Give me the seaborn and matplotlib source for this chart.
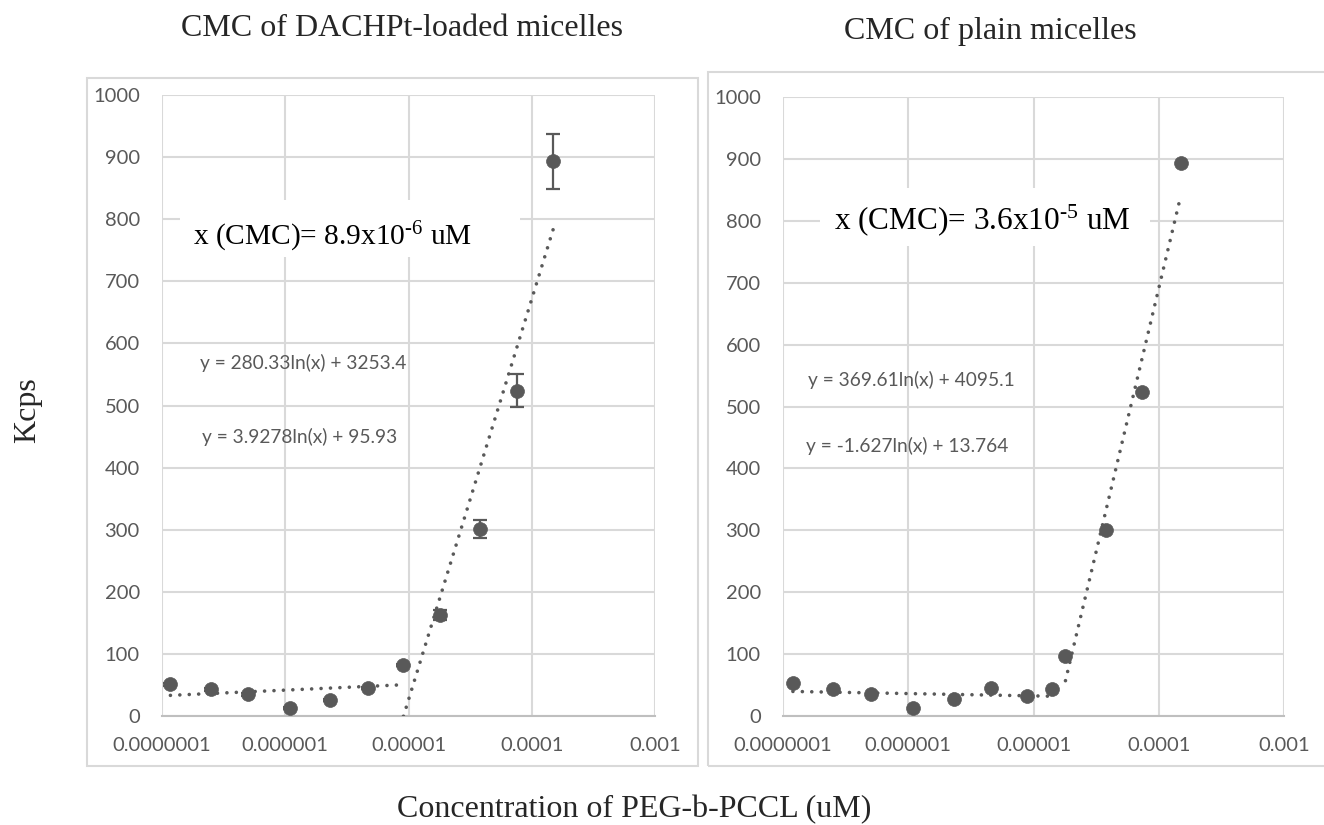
import numpy as np
import pandas as pd
import matplotlib
matplotlib.use("Agg")
import matplotlib.pyplot as plt
import seaborn as sns
from matplotlib.patches import Rectangle

# ---------------- data ----------------
left_conc = [1.17e-7, 2.5e-7, 5.0e-7, 1.1e-6, 2.3e-6, 4.7e-6, 9.1e-6, 1.8e-5, 3.8e-5, 7.6e-5, 1.5e-4]
left_kcps = [51, 43, 35, 13, 26, 45, 82, 163, 301, 524, 893]
left_err = [2, 2, 2, 2, 2, 2, 2, 8, 15, 26, 45]
left_coefs = [(3.9278, 95.93), (280.33, 3253.4)]
left_fit_ranges = [(0, 6), (6, 10)]
left_eq_labels = ["y = 280.33ln(x) + 3253.4", "y = 3.9278ln(x) + 95.93"]
left_cmc = "x (CMC)= 8.9x10$^{\\mathrm{\u2010}\\mathrm{6}}$ uM"
left_title = "CMC of DACHPt-loaded micelles"

right_conc = [1.2e-7, 2.5e-7, 5.0e-7, 1.1e-6, 2.3e-6, 4.6e-6, 8.9e-6, 1.4e-5, 1.8e-5, 3.8e-5, 7.4e-5, 1.5e-4]
right_kcps = [53, 44, 36, 13, 27, 45, 32, 43, 97, 301, 524, 893]
right_coefs = [(-1.627, 13.764), (369.61, 4095.1)]
right_fit_ranges = [(0, 7), (8, 11)]
right_eq_labels = ["y = 369.61ln(x) + 4095.1", "y = -1.627ln(x) + 13.764"]
right_cmc = "x (CMC)= 3.6x10$^{\\mathrm{\u2010}\\mathrm{5}}$ uM"
right_title = "CMC of plain micelles"

x_ticks = [1e-7, 1e-6, 1e-5, 1e-4, 1e-3]
x_tick_labels = ["0.0000001", "0.000001", "0.00001", "0.0001", "0.001"]
y_ticks = list(range(0, 1001, 100))

y_label = "Kcps"
x_label = "Concentration of PEG-b-PCCL (uM)"

# ---------------- style ----------------
sns.set_theme(style="white")
plt.rcParams["font.family"] = ["Lato", "DejaVu Sans"]
plt.rcParams["mathtext.fontset"] = "custom"
plt.rcParams["mathtext.rm"] = "Liberation Serif"
plt.rcParams["mathtext.it"] = "Liberation Serif:italic"

GRAY = "#595959"
GRID = "#d9d9d9"
SERIF = ["Liberation Serif", "DejaVu Serif"]

fig = plt.figure(figsize=(13.24, 8.25), dpi=100)

W, H = 1324, 825
def frame(x0, y0, x1, y1):
    fig.patches.append(Rectangle((x0 / W, 1 - y1 / H), (x1 - x0) / W, (y1 - y0) / H,
                                 transform=fig.transFigure, fill=False,
                                 edgecolor=GRID, linewidth=1.5, zorder=0))
frame(87, 78, 698, 766)
frame(708, 72, 1330, 766)

ax1 = fig.add_axes([162 / W, 1 - 716 / H, 493 / W, 621 / H])
ax2 = fig.add_axes([783 / W, 1 - 716 / H, 501 / W, 619 / H])


def draw_panel(ax, conc, kcps, err, coefs, ranges, eqs, cmc, cmc_size,
               eq_pos, cmc_pos, box):
    df = pd.DataFrame({"conc": conc, "kcps": kcps})
    for (a, b), (i0, i1) in zip(coefs, ranges):
        xs = np.geomspace(conc[i0], conc[i1], 200)
        tdf = pd.DataFrame({"conc": xs, "kcps": a * np.log(xs) + b})
        sns.lineplot(data=tdf, x="conc", y="kcps", ax=ax, color=GRAY,
                     linewidth=2.6, linestyle=(0, (0.01, 2.6)),
                     dash_capstyle="round", zorder=3)
    if err is not None:
        ax.errorbar(conc, kcps, yerr=err, fmt="none", ecolor=GRAY,
                    elinewidth=1.6, capsize=5, capthick=1.6, zorder=4)
    sns.scatterplot(data=df, x="conc", y="kcps", ax=ax, color=GRAY, s=100,
                    edgecolor=GRAY, linewidth=0.5, zorder=5)
    ax.set_xscale("log")
    ax.set_xlim(1e-7, 1e-3)
    ax.set_ylim(0, 1000)
    ax.set_xticks(x_ticks)
    ax.set_xticklabels(x_tick_labels)
    ax.set_yticks(y_ticks)
    ax.xaxis.set_minor_locator(matplotlib.ticker.NullLocator())
    ax.grid(True, color=GRID, linewidth=1.5, zorder=0)
    ax.set_axisbelow(True)
    for s in ["top", "right", "left"]:
        ax.spines[s].set_visible(False)
    ax.spines["bottom"].set_color("#bfbfbf")
    ax.spines["bottom"].set_linewidth(1.5)
    ax.tick_params(axis="both", length=0, labelsize=14.5, colors=GRAY)
    ax.tick_params(axis="x", pad=15)
    ax.tick_params(axis="y", pad=16)
    ax.set_xlabel("")
    ax.set_ylabel("")
    ax.set_facecolor("none")
    for lab in ax.get_xticklabels() + ax.get_yticklabels():
        lab.set_color(GRAY)
    ax.add_patch(Rectangle((box[0], box[1]), box[2] - box[0], box[3] - box[1],
                           transform=ax.transAxes, facecolor="white",
                           edgecolor="none", zorder=2))
    ax.text(cmc_pos[0], cmc_pos[1], cmc, transform=ax.transAxes, fontsize=cmc_size,
            family=SERIF, color="black", va="center", ha="left", zorder=6)
    for (px, py), t in zip(eq_pos, eqs):
        ax.text(px, py, t, transform=ax.transAxes, fontsize=13.8, color=GRAY,
                va="center", ha="left", zorder=6)


draw_panel(ax1, left_conc, left_kcps, left_err, left_coefs, left_fit_ranges,
           left_eq_labels, left_cmc, 21.2,
           [(0.077, 0.568), (0.081, 0.449)], (0.063, 0.771),
           (0.037, 0.739, 0.726, 0.831))
draw_panel(ax2, right_conc, right_kcps, None, right_coefs, right_fit_ranges,
           right_eq_labels, right_cmc, 22.5,
           [(0.05, 0.543), (0.046, 0.436)], (0.102, 0.801),
           (0.074, 0.759, 0.733, 0.853))

fig.text(402 / W, 1 - 28 / H, left_title, family=SERIF, fontsize=23,
         ha="center", va="center")
fig.text(990 / W, 1 - 31 / H, right_title, family=SERIF, fontsize=23,
         ha="center", va="center")
fig.text(28 / W, 1 - 410 / H, y_label, family=SERIF, fontsize=23,
         ha="center", va="center", rotation=90)
fig.text(634 / W, 1 - 810 / H, x_label, family=SERIF, fontsize=23,
         ha="center", va="center")

fig.savefig("out.png", dpi=100)
